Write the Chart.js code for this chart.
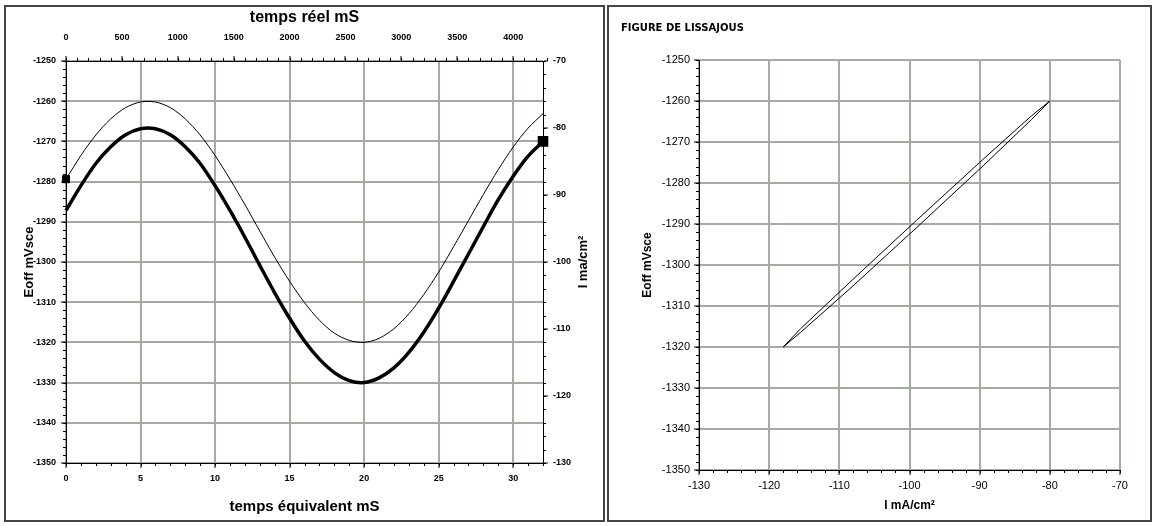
<!DOCTYPE html>
<html>
<head>
<meta charset="utf-8">
<script src="https://cdn.jsdelivr.net/npm/chart.js@4.4.1/dist/chart.umd.min.js"></script>
<style>
  body { margin: 0; background: #fff; width: 1155px; height: 526px; overflow: hidden; }
  .box { position: absolute; box-sizing: border-box; border: 2px solid #444; background: #fff; }
  #box-left  { left: 4px;   top: 5px; width: 601px; height: 517px; }
  #box-right { left: 607px; top: 5px; width: 545px; height: 517px; }
  canvas { display: block; }
</style>
</head>
<body>
<div class="box" id="box-left"><canvas id="chart-time" width="597" height="513"></canvas></div>
<div class="box" id="box-right"><canvas id="chart-liss" width="541" height="513"></canvas></div>
<script>
// ── data ──
const eqTime = [0, 1, 2, 3, 4, 5, 6, 7, 8, 9, 10, 11, 12, 13, 14, 15, 16,
                17, 18, 19, 20, 21, 22, 23, 24, 25, 26, 27, 28, 29, 30, 31, 32];
// Eoff (mV/sce), thin line, left axis
const eoff = [-1279.4, -1273.5, -1268.4, -1264.4, -1261.6, -1260.2, -1260.2, -1261.6,
              -1264.4, -1268.4, -1273.5, -1279.4, -1285.7, -1292.3, -1298.8, -1304.8,
              -1310.1, -1314.5, -1317.7, -1319.5, -1320.0, -1319.0, -1316.6, -1312.9,
              -1308.1, -1302.5, -1296.2, -1289.7, -1283.2, -1277.0, -1271.4, -1266.7, -1263.1];
// I (mA/cm²), thick line, right axis
const current = [-92.3, -88.6, -85.3, -82.8, -81.0, -80.1, -80.1, -81.0,
                 -82.8, -85.3, -88.6, -92.3, -96.3, -100.5, -104.6, -108.4,
                 -111.8, -114.5, -116.5, -117.7, -118.0, -117.3, -115.8, -113.5,
                 -110.5, -106.9, -102.9, -98.8, -94.7, -90.7, -87.2, -84.2, -82.0];
// Lissajous loop (I, Eoff)
const lissI = [-99.0, -89.5, -82.6, -80.0, -82.6, -89.5, -99.0, -108.5, -115.5, -118.0, -115.5, -108.5, -99.0];
const lissE = [-1289.1, -1274.2, -1263.6, -1260.0, -1264.5, -1275.8, -1290.9, -1305.8, -1316.4, -1320.0, -1315.5, -1304.2, -1289.1];

// tick labels
const eqTickLabels   = [0, 5, 10, 15, 20, 25, 30];
const realTickLabels = [0, 500, 1000, 1500, 2000, 2500, 3000, 3500, 4000];
const eTickLabels    = [-1350, -1340, -1330, -1320, -1310, -1300, -1290, -1280, -1270, -1260, -1250];
const iTickLabels    = [-130, -120, -110, -100, -90, -80, -70];

const GRID = '#a3aba3';
const FONT = '"Liberation Sans", Arial, sans-serif';

// minor tick marks drawn on the scales
const minorTicks = {
    id: 'minorTicks',
    afterDraw(chart, args, opts) {
        const ctx = chart.ctx;
        ctx.save();
        ctx.strokeStyle = '#000';
        ctx.lineWidth = 1;
        for (const [id, step] of Object.entries(opts.steps || {})) {
            const s = chart.scales[id];
            if (!s) continue;
            const n = Math.round((s.max - s.min) / step);
            for (let k = 0; k <= n; k++) {
                const p = Math.round(s.getPixelForValue(s.min + k * step)) + 0.5;
                ctx.beginPath();
                if (s.position === 'left')   { ctx.moveTo(s.right, p); ctx.lineTo(s.right - 3, p); }
                if (s.position === 'right')  { ctx.moveTo(s.left, p);  ctx.lineTo(s.left + 3, p); }
                if (s.position === 'bottom') { ctx.moveTo(p, s.top);   ctx.lineTo(p, s.top + 3); }
                if (s.position === 'top')    { ctx.moveTo(p, s.bottom); ctx.lineTo(p, s.bottom - 3); }
                ctx.stroke();
            }
        }
        ctx.restore();
    }
};

// right-hand axis title, read bottom to top like the original
const rightTitle = {
    id: 'rightTitle',
    afterDraw(chart, args, opts) {
        if (!opts.text) return;
        const ctx = chart.ctx;
        const area = chart.chartArea;
        ctx.save();
        ctx.translate(opts.x, (area.top + area.bottom) / 2);
        ctx.rotate(-Math.PI / 2);
        ctx.font = opts.font;
        ctx.fillStyle = '#000';
        ctx.textAlign = 'center';
        ctx.textBaseline = 'middle';
        ctx.fillText(opts.text, 0, 0);
        ctx.restore();
    }
};

function axis(min, max, labels, extra) {
    return Object.assign({
        type: 'linear',
        min, max,
        afterBuildTicks: s => { s.ticks = labels.map(v => ({ value: v })); },
        ticks: { color: '#000', callback: v => String(v), autoSkip: false, maxRotation: 0,
                 font: { family: FONT, size: 9, weight: 'bold' }, padding: 5 },
        grid: { color: GRID, lineWidth: 2, tickColor: '#000', tickWidth: 1, tickLength: 5 },
        border: { color: '#000', width: 1 }
    }, extra);
}

// ── time chart ──
const tScales = {
    x: axis(0, 32, eqTickLabels, {
        position: 'bottom',
        title: { display: true, text: 'temps équivalent mS', color: '#000',
                 font: { family: FONT, size: 15, weight: 'bold' }, padding: { top: 0, bottom: 4 } },
        afterFit: s => { s.height = 57; }
    }),
    x2: axis(0, 4267, realTickLabels, {
        position: 'top',
        title: { display: true, text: 'temps réel mS', color: '#000',
                 font: { family: FONT, size: 16, weight: 'bold' }, padding: { top: 1, bottom: 0 } },
        afterFit: s => { s.height = 54; }
    }),
    y: axis(-1350, -1250, eTickLabels, {
        position: 'left',
        title: { display: true, text: 'Eoff mVsce', color: '#000',
                 font: { family: FONT, size: 13, weight: 'bold' }, padding: { top: 16, bottom: 0 } },
        afterFit: s => { s.width = 60; }
    }),
    y2: axis(-130, -70, iTickLabels, {
        position: 'right',
        afterFit: s => { s.width = 60; }
    })
};
tScales.x2.grid = Object.assign({}, tScales.x2.grid, { drawOnChartArea: false });
tScales.y2.grid = Object.assign({}, tScales.y2.grid, { drawOnChartArea: false });
tScales.x2.ticks = Object.assign({}, tScales.x2.ticks, { padding: 13 });

new Chart(document.getElementById('chart-time'), {
    type: 'scatter',
    data: {
        datasets: [
            {
                label: 'Eoff',
                data: eqTime.map((t, i) => ({ x: t, y: eoff[i] })),
                xAxisID: 'x', yAxisID: 'y',
                showLine: true, borderColor: '#000', borderWidth: 1, tension: 0.3,
                pointStyle: 'rect', backgroundColor: '#000',
                pointRadius: eqTime.map((t, i) => i === 0 ? 5 : 0),
                clip: false
            },
            {
                label: 'I',
                data: eqTime.map((t, i) => ({ x: t, y: current[i] })),
                xAxisID: 'x', yAxisID: 'y2',
                showLine: true, borderColor: '#000', borderWidth: 3.5, tension: 0.3,
                pointStyle: 'rect', backgroundColor: '#000',
                pointRadius: eqTime.map((t, i) => i === eqTime.length - 1 ? 5 : 0),
                clip: false
            }
        ]
    },
    options: {
        responsive: false,
        animation: false,
        devicePixelRatio: 1,
        layout: { padding: 0 },
        scales: tScales,
        plugins: {
            legend: { display: false },
            tooltip: { enabled: false },
            minorTicks: { steps: { x: 1, x2: 100, y: 2, y2: 2 } },
            rightTitle: { text: 'I ma/cm²', x: 577, font: 'bold 13px ' + FONT }
        }
    },
    plugins: [minorTicks, rightTitle]
});

// ── Lissajous chart ──
const lScales = {
    x: axis(-130, -70, iTickLabels, {
        position: 'bottom',
        title: { display: true, text: 'I mA/cm²', color: '#000',
                 font: { family: FONT, size: 12, weight: 'bold' }, padding: { top: 0, bottom: 7 } },
        afterFit: s => { s.height = 50; }
    }),
    y: axis(-1350, -1250, eTickLabels, {
        position: 'left',
        title: { display: true, text: 'Eoff mVsce', color: '#000',
                 font: { family: FONT, size: 12, weight: 'bold' }, padding: { top: 19, bottom: 0 } },
        afterFit: s => { s.width = 78; }
    })
};
lScales.x.ticks = Object.assign({}, lScales.x.ticks, { font: { family: FONT, size: 11 }, padding: 4 });
lScales.y.ticks = Object.assign({}, lScales.y.ticks, { font: { family: FONT, size: 11 }, padding: 4 });

new Chart(document.getElementById('chart-liss'), {
    type: 'scatter',
    data: {
        datasets: [{
            label: 'Lissajous',
            data: lissI.map((v, i) => ({ x: v, y: lissE[i] })),
            showLine: true, borderColor: '#000', borderWidth: 1, pointRadius: 0, tension: 0
        }]
    },
    options: {
        responsive: false,
        animation: false,
        devicePixelRatio: 1,
        layout: { padding: { left: 12, right: 30, top: 0, bottom: 0 } },
        scales: lScales,
        plugins: {
            legend: { display: false },
            tooltip: { enabled: false },
            title: { display: true, text: 'FIGURE DE LISSAJOUS', align: 'start', color: '#000',
                     font: { family: '"DejaVu Sans", sans-serif', size: 10, weight: 'bold' },
                     padding: { top: 15, bottom: 26 } },
            minorTicks: { steps: { x: 2, y: 2 } }
        }
    },
    plugins: [minorTicks]
});
</script>
</body>
</html>
